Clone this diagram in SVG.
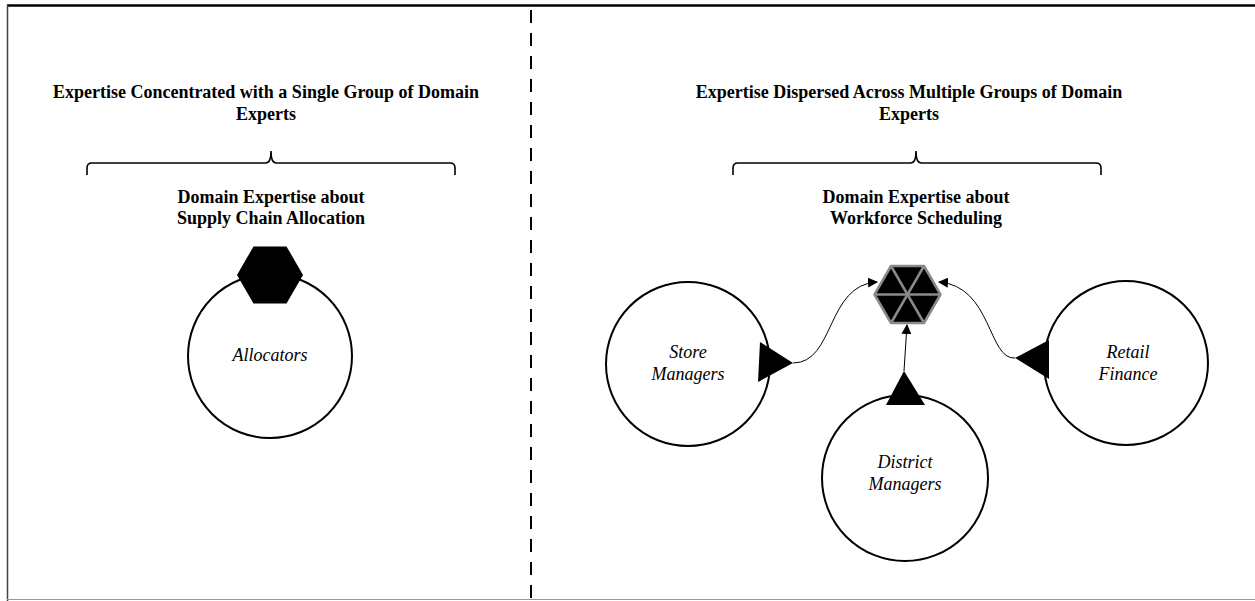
<svg xmlns="http://www.w3.org/2000/svg" width="1255" height="601" viewBox="0 0 1255 601">
  <style>
    .title { font-family: "Liberation Serif", "Times New Roman", serif; font-weight: bold; font-size: 18px; text-anchor: middle; fill: #000; }
    .label { font-family: "Liberation Serif", "Times New Roman", serif; font-style: italic; font-size: 18px; text-anchor: middle; fill: #000; }
    .group { fill: #fff; stroke: #000; stroke-width: 2; }
    .brace { fill: none; stroke: #000; stroke-width: 1.6; }
    .link { fill: none; stroke: #000; stroke-width: 1; }
    .tri { fill: #000; }
  </style>
  <defs>
    <marker id="arrow" viewBox="0 0 10 10" refX="9" refY="5" markerWidth="10" markerHeight="10" markerUnits="userSpaceOnUse" orient="auto">
      <path d="M0,0 L10,5 L0,10 Z" fill="#000"/>
    </marker>
  </defs>

  <rect width="1255" height="601" fill="#fff"/>

  <!-- frame -->
  <g id="frame">
    <line x1="7" y1="5.5" x2="1255" y2="5.5" stroke="#000" stroke-width="2.5"/>
    <line x1="7.5" y1="5" x2="7.5" y2="601" stroke="#444" stroke-width="1.5"/>
    <line x1="7" y1="599.5" x2="1255" y2="599.5" stroke="#999" stroke-width="1.2"/>
    <line x1="531" y1="10" x2="531" y2="601" stroke="#000" stroke-width="2" stroke-dasharray="13 10"/>
  </g>

  <!-- left panel: concentrated expertise -->
  <g id="left-heading">
    <text class="title" x="266" y="98">Expertise Concentrated with a Single Group of Domain</text>
    <text class="title" x="266" y="120">Experts</text>
    <path class="brace" d="M87,175 L87,168 Q87,163 92,163 L266,163 Q271,163 271,151 Q271,163 276,163 L450,163 Q455,163 455,168 L455,175"/>
    <text class="title" x="271" y="203">Domain Expertise about</text>
    <text class="title" x="271" y="224">Supply Chain Allocation</text>
  </g>

  <g id="allocators">
    <circle class="group" cx="270" cy="356" r="82"/>
    <text class="label" x="270" y="361">Allocators</text>
  </g>
  <g id="allocation-expertise">
    <polygon points="303,275 286.5,303.6 253.5,303.6 237,275 253.5,246.4 286.5,246.4" fill="#000"/>
  </g>

  <!-- right panel: dispersed expertise -->
  <g id="right-heading">
    <text class="title" x="909" y="98">Expertise Dispersed Across Multiple Groups of Domain</text>
    <text class="title" x="909" y="120">Experts</text>
    <path class="brace" d="M733,175 L733,168 Q733,163 738,163 L911,163 Q916,163 916,151 Q916,163 921,163 L1096,163 Q1101,163 1101,168 L1101,175"/>
    <text class="title" x="916" y="203">Domain Expertise about</text>
    <text class="title" x="916" y="224">Workforce Scheduling</text>
  </g>

  <g id="store-managers">
    <circle class="group" cx="688" cy="364" r="82"/>
    <text class="label" x="688" y="358">Store</text>
    <text class="label" x="688" y="380">Managers</text>
    <polygon class="tri" points="760,342 793,363 758,382"/>
  </g>

  <g id="retail-finance">
    <circle class="group" cx="1126" cy="363" r="82"/>
    <text class="label" x="1128" y="358">Retail</text>
    <text class="label" x="1128" y="380">Finance</text>
    <polygon class="tri" points="1049,340 1015,358 1049,379"/>
  </g>

  <g id="district-managers">
    <circle class="group" cx="905" cy="478" r="83"/>
    <text class="label" x="905" y="468">District</text>
    <text class="label" x="905" y="490">Managers</text>
    <polygon class="tri" points="904,371 925,405 886,405"/>
  </g>

  <g id="scheduling-expertise">
    <polygon points="940.5,294.5 924,323 891,323 874.5,294.5 891,266 924,266" fill="#000" stroke="#8a8a8a" stroke-width="2.5" stroke-linejoin="round"/>
    <g stroke="#8a8a8a" stroke-width="2.5">
      <line x1="874.5" y1="294.5" x2="940.5" y2="294.5"/>
      <line x1="891" y1="266" x2="924" y2="323"/>
      <line x1="924" y1="266" x2="891" y2="323"/>
    </g>
  </g>

  <!-- connectors -->
  <g id="connectors">
    <path class="link" d="M793,363 C835,363 826,285 877,282" marker-end="url(#arrow)"/>
    <path class="link" d="M1015,358 C988,360 992,286 939,282" marker-end="url(#arrow)"/>
    <path class="link" d="M904,371 L907,325" marker-end="url(#arrow)"/>
  </g>
</svg>
